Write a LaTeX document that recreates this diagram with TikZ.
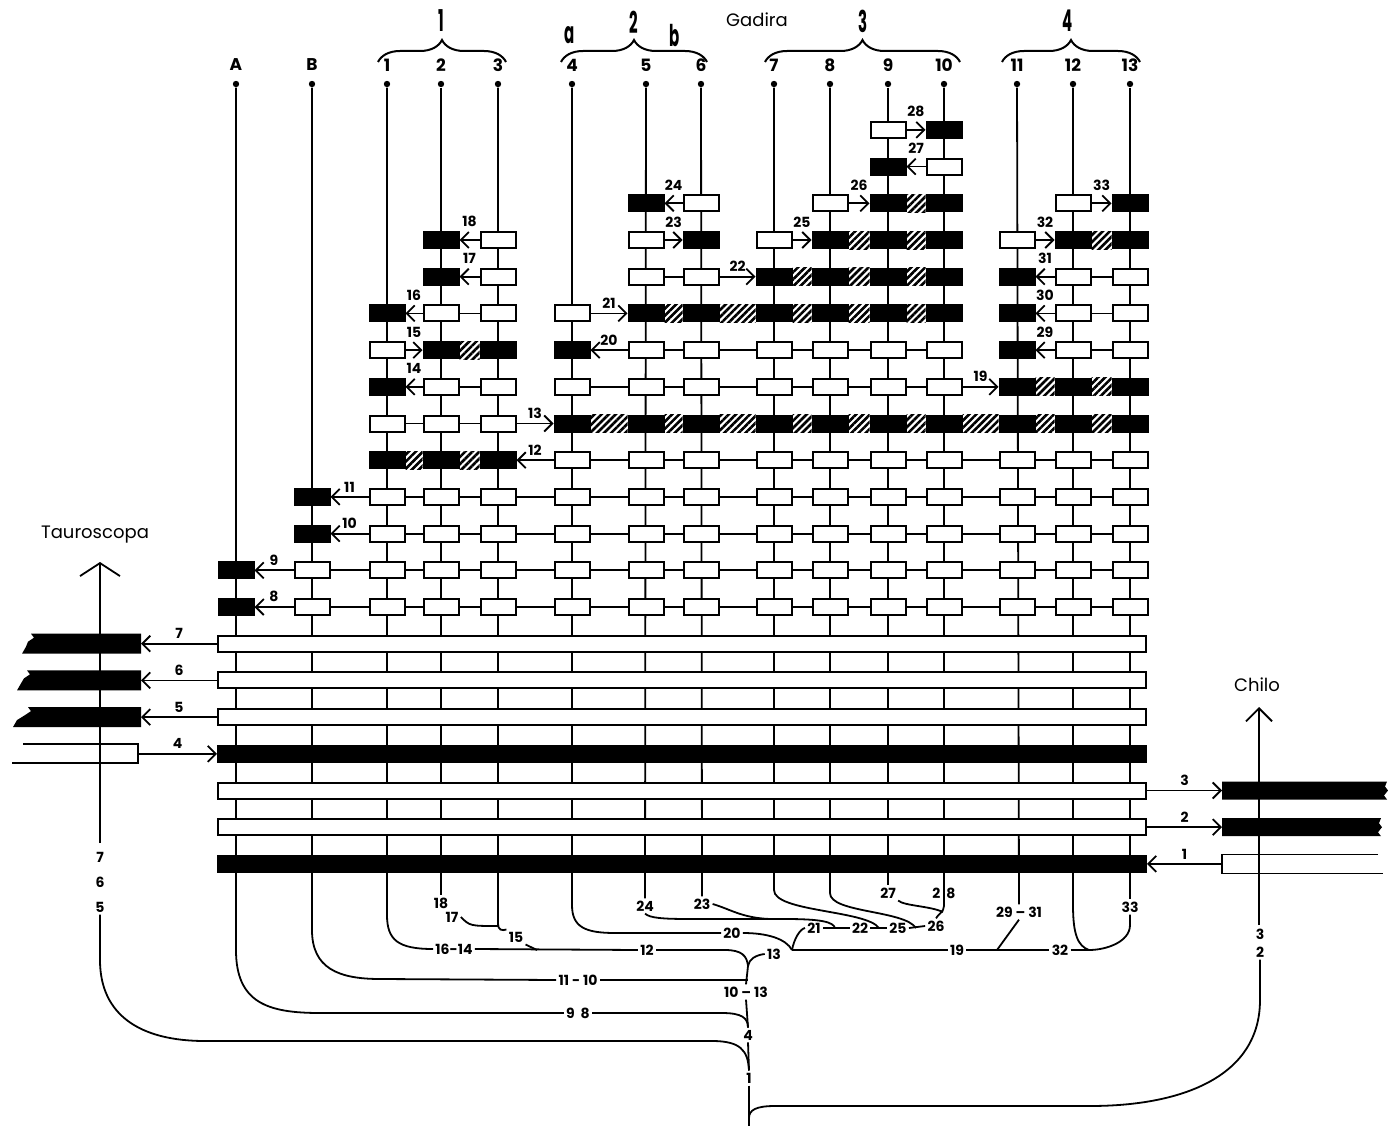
\documentclass[tikz,border=0pt]{standalone}
\usepackage{fontspec}
\setsansfont{Poppins}
\usepackage{graphicx}
\usetikzlibrary{arrows.meta,patterns.meta,decorations.pathreplacing}

\tikzset{
  wbox/.style={draw,fill=white,line width=1pt,minimum width=17.5pt,minimum height=8pt,inner sep=0pt},
  kbox/.style={wbox,fill=black},
  lbar/.style={draw,fill=white,line width=1pt,minimum width=464pt,minimum height=8pt,inner sep=0pt},
  kbar/.style={lbar,fill=black},
  link/.style={line width=0.9pt},
  arr/.style={link,-{Straight Barb[length=4pt,width=8pt]}},
  bigarr/.style={link,-{Straight Barb[length=6.5pt,width=20pt]}},
  midarr/.style={link,-{Straight Barb[length=6.5pt,width=13pt]}},
  hatch/.style={pattern={Lines[angle=45,distance=2.5pt,line width=1.3pt]}},
  lab/.style={font=\sffamily\bfseries\fontsize{7}{8}\selectfont,inner sep=1pt},
  wlab/.style={lab,midway,above=1pt},
  nlab/.style={lab,midway,above=5pt},
  coltxt/.style={font=\sffamily\bfseries\fontsize{8.5}{10}\selectfont,inner sep=0pt},
  grp/.style={font=\sffamily\bfseries\fontsize{15}{16}\selectfont,inner sep=0pt},
  luogo/.style={font=\sffamily\fontsize{9}{10}\selectfont,inner sep=0pt},
  punto/.style={circle,fill,inner sep=0pt,minimum size=3.2pt},
  brc/.style={line width=1pt,decorate,decoration={brace,amplitude=11pt}},
}

\begin{document}
\begin{tikzpicture}[x=0.5pt,y=-0.5pt]
\useasboundingbox (0,0) rectangle (1388,1129);

% Colonne: punti e nomi
\foreach \cc/\x in {A/236,B/312,1/387,2/441,3/498,4/572,5/646,6/701,7/774,8/830,9/888,10/944,11/1017,12/1073,13/1130} {
  \node[punto] (d\cc) at (\x,84) {};
  \node[coltxt] (l\cc) at (\x,65) {\cc};
}

% Righe
\foreach \L in {0,...,13}
  \coordinate (r\L) at (0,{607-36.7*\L});

% Gruppi in alto
\draw[brc] (378,62) -- (506,62);
\draw[brc] (561,62) -- (707,62);
\draw[brc] (765,62) -- (960,62);
\draw[brc] (1002,62) -- (1140,62);
\node[grp] (g1) at (441,21) {\scalebox{0.5}[1]{1}};
\node[grp] (g2) at (634,22) {\scalebox{0.5}[1]{2}};
\node[grp] (g3) at (863,21) {\scalebox{0.5}[1]{3}};
\node[grp] (g4) at (1068,21) {\scalebox{0.5}[1]{4}};
\node[grp] (ga) at (570,35) {\scalebox{0.5}[1]{a}};
\node[grp] (gb) at (675,36) {\scalebox{0.5}[1]{b}};
\node[luogo] (gadira) at (757,20) {Gadira};

% Albero: etichette
\node[lab] (t18) at (441,903) {18};
\node[lab] (t17) at (452,917) {17};
\node[lab] (t15) at (516,937) {15};
\node[lab] (t1614) at (454,949) {16-14};
\node[lab] (t12) at (647,950) {12};
\node[lab] (t1110) at (578,980) {11 - 10};
\node[lab] (t1013) at (746,992) {10 -- 13};
\node[lab] (t98) at (578,1013) {9\ \ 8};
\node[lab] (t4) at (748,1035) {4};
\node[lab] (t1) at (749,1078) {1};
\node[lab] (t24) at (645,906) {24};
\node[lab] (t23) at (702,904) {23};
\node[lab] (t20) at (732,933) {20};
\node[lab] (t13) at (774,954) {13};
\node[lab] (t21) at (814,928) {21};
\node[lab] (t22) at (860,928) {22};
\node[lab] (t25) at (898,928) {25};
\node[lab] (t26) at (936,926) {26};
\node[lab] (t27) at (888,893) {27};
\node[lab] (t28) at (944,893) {2\hspace{3pt}8};
\node[lab] (t2931) at (1019,912) {29 -- 31};
\node[lab] (t19) at (957,950) {19};
\node[lab] (t32) at (1060,950) {32};
\node[lab] (t33) at (1130,907) {33};
\node[lab] (t7l) at (100,857) {7};
\node[lab] (t6l) at (100,882) {6};
\node[lab] (t5l) at (100,907) {5};
\node[lab] (t3r) at (1260,934) {3};
\node[lab] (t2r) at (1260,952) {2};

\coordinate (j1) at (748,966);
\coordinate (j2) at (792,950);
\coordinate (j3) at (835,928);
\coordinate (j4) at (879,928);
\coordinate (j5) at (916,928);
\coordinate (j6) at (1089,950);
\coordinate (j7) at (997,950);
\coordinate (j8) at (748,980);
\coordinate (jfine) at (749,1126);

% Colonne fino all'albero
\draw[link] (dA) -- (236,950) .. controls (236,1003) and (268,1013) .. (320,1013) -- (t98.west);
\draw[link] (dB) -- (312,930) .. controls (312,968) and (338,979) .. (380,979) -- (t1110.west);
\draw[link] (d1) -- (387,915) .. controls (387,940) and (398,949) .. (t1614.west);
\draw[link] (d2) -- (t18.north);
\draw[link] (d3) -- (498,924) .. controls (498,930) and (502,931) .. (t15.north west);
\draw[link] (d4) -- (572,905) .. controls (572,927) and (585,933) .. (615,933) -- (t20.west);
\draw[link] (d5) -- (t24.north);
\draw[link] (d6) -- (t23.north);
\draw[link] (d7) -- (774,890) .. controls (774,912) and (866,910) .. (j4);
\draw[link] (d8) -- (830,893) .. controls (830,913) and (904,910) .. (j5);
\draw[link] (d9) -- (t27.north);
\draw[link] (d10) -- (944,906) .. controls (944,912) and (938,914) .. (t26.north);
\draw[link] (d11) -- (t2931.north);
\draw[link] (d12) -- (1073,905) .. controls (1073,935) and (1078,946) .. (j6);
\draw[link] (d13) -- (t33.north);

% Rami dell'albero
\draw[link] (t17.east) .. controls (470,926) .. (498,926);
\draw[link] (t15.south east) -- (537,950);
\draw[link] (t1614.east) -- (t12.west);
\draw[link] (t12.east) -- (725,950) .. controls (742,950) and (747,956) .. (j1);
\draw[link] (t13.west) .. controls (756,955) and (749,959) .. (j1);
\draw[link] (t20.east) .. controls (768,933) and (786,939) .. (j2);
\draw[link] (t21.west) .. controls (800,929) and (794,939) .. (j2);
\draw[link] (j2) -- (t19.west);
\draw[link] (t19.east) -- (j7) -- (t32.west);
\draw[link] (t2931.south) -- (j7);
\draw[link] (t32.east) -- (j6);
\draw[link] (t33.south) -- (1130,925) .. controls (1130,942) and (1106,950) .. (j6);
\draw[link] (t21.east) -- (t22.west);
\draw[link] (t22.east) -- (t25.west);
\draw[link] (t25.east) -- (t26.west);
\draw[link] (t24.south) .. controls (650,918) and (662,919) .. (690,919) -- (785,919) .. controls (822,919) and (833,922) .. (j3);
\draw[link] (t23.east) .. controls (730,909) and (742,918) .. (770,919);
\draw[link] (t27.south east) .. controls (905,906) and (930,906) .. (943,912);

% Tronco
\draw[link] (j1) -- (t1013.north);
\draw[link] (t1013.south) -- (t4.north);
\draw[link] (t4.south) -- (t1.north);
\draw[link] (t1.south) -- (jfine);
\draw[link] (t1110.east) -- (j8);
\draw[link] (t98.east) -- (722,1013) .. controls (742,1013) and (748,1018) .. (t4.north);
\draw[link] (t5l.south) -- (100,960) .. controls (100,1015) and (140,1041) .. (205,1041) -- (712,1041) .. controls (740,1041) and (748,1050) .. (t1.north);
\draw[link] (t2r.south) -- (1260,1000) .. controls (1260,1075) and (1185,1106) .. (1090,1106) -- (775,1106) .. controls (756,1106) and (749,1110) .. (749,1118);

% Tauroscopa e Chilo
\node[luogo] (taur) at (95,535) {Tauroscopa};
\coordinate (tpiede) at (100,843);
\coordinate (tcima) at (100,562);
\draw[bigarr] (tpiede) -- (tcima);
\node[luogo] (chilo) at (1257,685) {Chilo};
\coordinate (cpiede) at (1259,925);
\coordinate (ccima) at (1259,707);
\draw[midarr] (cpiede) -- (ccima);

% Barre lunghe
\foreach \n/\f in {7/lbar,6/lbar,5/lbar,4/kbar,3/lbar,2/lbar,1/kbar}
  \node[\f] (bar\n) at (682,{607+36.7*(8-\n)}) {};

% Monconi a sinistra
\foreach \n/\xt/\xb in {7/31/22,6/27/17,5/28/13} {
  \pgfmathsetmacro\yy{607+36.7*(8-\n)}
  \fill (141,\yy-10) -- (\xt,\yy-10) -- (\xt+3,\yy-6) -- (\xt-3,\yy-2) -- (\xb+4,\yy+3) -- (\xb,\yy+10) -- (141,\yy+10) -- cycle;
  \coordinate (s\n) at (141,\yy);
  \draw[arr] (bar\n) -- (s\n) node[wlab] (n\n) {\n};
}
\coordinate (s4) at (138,753.8);
\draw[link] (23,744.3) -- (138,744.3) -- (138,763.3) -- (12,763.3);
\draw[arr] (s4) -- (bar4) node[wlab] (n4) {4};

% Monconi a destra
\foreach \n/\xr in {3/1387,2/1381} {
  \pgfmathsetmacro\yy{607+36.7*(8-\n)}
  \fill (1222,\yy-9) -- (\xr,\yy-9) -- (\xr-2,\yy-4) -- (\xr+1,\yy) -- (\xr-3,\yy+5) -- (\xr,\yy+9) -- (1222,\yy+9) -- cycle;
  \coordinate (s\n) at (1222,\yy);
  \draw[arr] (bar\n) -- (s\n) node[wlab] (n\n) {\n};
}
\coordinate (s1) at (1222,863.9);
\draw[link] (1378,854.4) -- (1222,854.4) -- (1222,873.4) -- (1383,873.4);
\draw[arr] (s1) -- (bar1) node[wlab] (n1) {1};

% Riquadri piccoli: bianchi e neri
\foreach \L/\ws/\ks in {
  0/{B,1,2,3,4,5,6,7,8,9,10,11,12,13}/{A},
  1/{B,1,2,3,4,5,6,7,8,9,10,11,12,13}/{A},
  2/{1,2,3,4,5,6,7,8,9,10,11,12,13}/{B},
  3/{1,2,3,4,5,6,7,8,9,10,11,12,13}/{B},
  4/{4,5,6,7,8,9,10,11,12,13}/{1,2,3},
  5/{1,2,3}/{4,5,6,7,8,9,10,11,12,13},
  6/{2,3,4,5,6,7,8,9,10}/{1,11,12,13},
  7/{1,5,6,7,8,9,10,12,13}/{2,3,4,11},
  8/{2,3,4,12,13}/{1,5,6,7,8,9,10,11},
  9/{3,5,6,12,13}/{2,7,8,9,10,11},
  10/{3,5,7,11}/{2,6,8,9,10,12,13},
  11/{6,8,12}/{5,9,10,13},
  12/{10}/{9},
  13/{9}/{10}} {
  \foreach \cc in \ws \node[wbox] (b\L-\cc) at (d\cc |- r\L) {};
  \foreach \cc in \ks \node[kbox] (b\L-\cc) at (d\cc |- r\L) {};
}

% Collegamenti semplici
\foreach \L/\ps in {
  0/{B/1,1/2,2/3,3/4,4/5,5/6,6/7,7/8,8/9,9/10,10/11,11/12,12/13},
  1/{B/1,1/2,2/3,3/4,4/5,5/6,6/7,7/8,8/9,9/10,10/11,11/12,12/13},
  2/{1/2,2/3,3/4,4/5,5/6,6/7,7/8,8/9,9/10,10/11,11/12,12/13},
  3/{1/2,2/3,3/4,4/5,5/6,6/7,7/8,8/9,9/10,10/11,11/12,12/13},
  4/{4/5,5/6,6/7,7/8,8/9,9/10,10/11,11/12,12/13},
  5/{1/2,2/3},
  6/{2/3,4/5,5/6,6/7,7/8,8/9,9/10},
  7/{5/6,6/7,7/8,8/9,9/10,12/13},
  8/{2/3,12/13},
  9/{5/6,12/13}}
  \foreach \a/\b in \ps \draw[link] (b\L-\a) -- (b\L-\b);

% Tratti tratteggiati (fusioni)
\foreach \L/\ps in {
  4/{1/2,2/3},
  5/{4/5,5/6,6/7,7/8,8/9,9/10,10/11,11/12,12/13},
  6/{11/12,12/13},
  7/{2/3},
  8/{5/6,6/7,7/8,8/9,9/10},
  9/{7/8,8/9,9/10},
  10/{8/9,9/10,12/13},
  11/{9/10}}
  \foreach \a/\b in \ps \fill[hatch] (b\L-\a.north east) rectangle (b\L-\b.south west);

% Frecce numerate
\foreach \L/\a/\b/\t/\s in {
  0/B/A/8/wlab, 1/B/A/9/wlab, 2/1/B/10/wlab, 3/1/B/11/wlab,
  4/4/3/12/wlab, 5/3/4/13/wlab,
  6/2/1/14/nlab, 6/10/11/19/wlab,
  7/1/2/15/nlab, 7/5/4/20/wlab, 7/12/11/29/nlab,
  8/2/1/16/nlab, 8/4/5/21/wlab, 8/12/11/30/nlab,
  9/3/2/17/nlab, 9/6/7/22/wlab, 9/12/11/31/nlab,
  10/3/2/18/nlab, 10/5/6/23/nlab, 10/7/8/25/nlab, 10/11/12/32/nlab,
  11/6/5/24/nlab, 11/8/9/26/nlab, 11/12/13/33/nlab,
  12/10/9/27/nlab, 13/9/10/28/nlab}
  \draw[arr] (b\L-\a) -- (b\L-\b) node[\s] (n\t) {\t};

\end{tikzpicture}
\end{document}
